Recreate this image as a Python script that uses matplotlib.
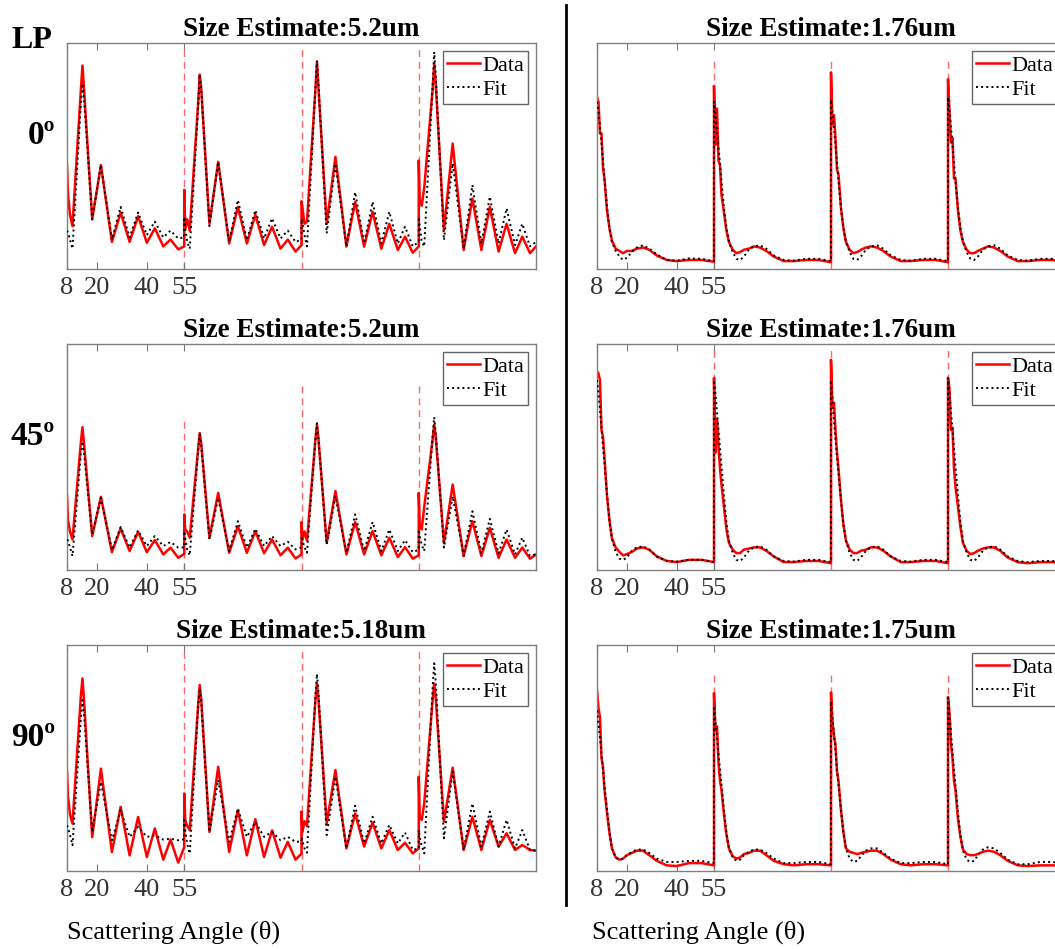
import matplotlib
matplotlib.use("Agg")
import matplotlib.pyplot as plt
from matplotlib.lines import Line2D
import numpy as np

plt.rcParams['font.family'] = ['Liberation Serif', 'DejaVu Serif']

# ---------------------------------------------------------
# data: 4 polarisation segments (8-55 deg) per panel, normalised intensity
# ---------------------------------------------------------
seg_width = 47
tick_pos = [8, 20, 40, 55]
tick_txt = ['8', '20', '40', '55']

row_labels = ['0º', '45º', '90º']
left_titles = ['Size Estimate:5.2um', 'Size Estimate:5.2um', 'Size Estimate:5.18um']
right_titles = ['Size Estimate:1.76um', 'Size Estimate:1.76um', 'Size Estimate:1.75um']

# angles sampled for the large (5 um) particle
ang_big = [8, 8.4, 9.2, 10.2, 13.6, 14.2, 14.8, 18.1, 21.6, 26.0, 29.5, 33.1,
           36.5, 40.0, 43.2, 46.6, 49.5, 52.6, 55]

big_data_0 = [
    [0.46, 0.33, 0.24, 0.19, 0.80, 0.90, 0.80, 0.22, 0.46, 0.12, 0.25, 0.12, 0.234, 0.116, 0.18, 0.10, 0.13, 0.087, 0.10],
    [0.35, 0.18, 0.22, 0.17, 0.74, 0.86, 0.80, 0.20, 0.474, 0.113, 0.275, 0.113, 0.24, 0.106, 0.187, 0.09, 0.13, 0.077, 0.106],
    [0.30, 0.27, 0.20, 0.21, 0.80, 0.916, 0.80, 0.20, 0.496, 0.099, 0.297, 0.099, 0.253, 0.09, 0.20, 0.084, 0.143, 0.072, 0.10],
    [0.48, 0.30, 0.28, 0.36, 0.80, 0.909, 0.82, 0.172, 0.555, 0.084, 0.312, 0.084, 0.275, 0.077, 0.20, 0.07, 0.143, 0.07, 0.10],
]
big_fit_0 = [
    [0.17, 0.16, 0.13, 0.09, 0.74, 0.82, 0.76, 0.22, 0.46, 0.13, 0.275, 0.14, 0.25, 0.15, 0.21, 0.14, 0.17, 0.135, 0.14],
    [0.23, 0.18, 0.12, 0.09, 0.72, 0.86, 0.80, 0.19, 0.474, 0.12, 0.305, 0.128, 0.26, 0.135, 0.224, 0.135, 0.17, 0.12, 0.13],
    [0.22, 0.20, 0.15, 0.10, 0.80, 0.923, 0.82, 0.158, 0.467, 0.10, 0.34, 0.113, 0.297, 0.113, 0.253, 0.113, 0.187, 0.10, 0.12],
    [0.23, 0.19, 0.12, 0.10, 0.82, 0.96, 0.86, 0.128, 0.467, 0.09, 0.371, 0.113, 0.32, 0.113, 0.268, 0.106, 0.20, 0.10, 0.12],
]
big_data_45 = [
    [0.33, 0.22, 0.17, 0.135, 0.57, 0.632, 0.56, 0.15, 0.324, 0.079, 0.184, 0.084, 0.169, 0.079, 0.132, 0.069, 0.099, 0.054, 0.072],
    [0.246, 0.18, 0.17, 0.143, 0.54, 0.606, 0.56, 0.143, 0.341, 0.076, 0.194, 0.076, 0.172, 0.074, 0.135, 0.065, 0.099, 0.051, 0.069],
    [0.212, 0.135, 0.17, 0.13, 0.58, 0.643, 0.58, 0.12, 0.349, 0.069, 0.212, 0.069, 0.172, 0.065, 0.143, 0.057, 0.101, 0.05, 0.065],
    [0.341, 0.20, 0.179, 0.28, 0.58, 0.643, 0.59, 0.12, 0.378, 0.062, 0.216, 0.062, 0.187, 0.054, 0.135, 0.054, 0.099, 0.05, 0.069],
]
big_fit_45 = [
    [0.135, 0.13, 0.10, 0.062, 0.52, 0.569, 0.52, 0.157, 0.319, 0.088, 0.19, 0.099, 0.175, 0.106, 0.15, 0.106, 0.124, 0.099, 0.10],
    [0.172, 0.14, 0.09, 0.065, 0.53, 0.599, 0.55, 0.135, 0.319, 0.084, 0.216, 0.099, 0.182, 0.106, 0.15, 0.106, 0.125, 0.091, 0.10],
    [0.15, 0.13, 0.10, 0.076, 0.58, 0.65, 0.58, 0.113, 0.326, 0.076, 0.246, 0.084, 0.212, 0.084, 0.179, 0.084, 0.132, 0.079, 0.09],
    [0.179, 0.15, 0.11, 0.084, 0.60, 0.676, 0.61, 0.099, 0.326, 0.062, 0.26, 0.076, 0.226, 0.074, 0.179, 0.069, 0.143, 0.062, 0.07],
]
big_data_90 = [
    [0.44, 0.33, 0.25, 0.21, 0.78, 0.852, 0.76, 0.15, 0.453, 0.084, 0.284, 0.069, 0.239, 0.062, 0.188, 0.05, 0.139, 0.037, 0.106],
    [0.343, 0.225, 0.20, 0.18, 0.74, 0.823, 0.76, 0.173, 0.461, 0.084, 0.269, 0.069, 0.229, 0.062, 0.18, 0.059, 0.129, 0.05, 0.077],
    [0.263, 0.174, 0.22, 0.20, 0.76, 0.83, 0.76, 0.211, 0.447, 0.10, 0.255, 0.108, 0.214, 0.10, 0.181, 0.093, 0.125, 0.078, 0.10],
    [0.417, 0.24, 0.226, 0.30, 0.76, 0.83, 0.77, 0.218, 0.457, 0.093, 0.24, 0.093, 0.226, 0.108, 0.167, 0.093, 0.115, 0.093, 0.09],
]
big_fit_90 = [
    [0.202, 0.19, 0.16, 0.114, 0.68, 0.756, 0.70, 0.173, 0.394, 0.136, 0.269, 0.151, 0.195, 0.151, 0.158, 0.139, 0.143, 0.136, 0.14],
    [0.225, 0.18, 0.12, 0.077, 0.73, 0.808, 0.75, 0.173, 0.402, 0.129, 0.276, 0.151, 0.217, 0.151, 0.173, 0.136, 0.151, 0.129, 0.13],
    [0.152, 0.13, 0.10, 0.081, 0.78, 0.872, 0.79, 0.159, 0.417, 0.10, 0.289, 0.122, 0.24, 0.122, 0.204, 0.122, 0.17, 0.093, 0.10],
    [0.181, 0.15, 0.11, 0.078, 0.82, 0.919, 0.84, 0.145, 0.44, 0.093, 0.299, 0.108, 0.263, 0.108, 0.226, 0.10, 0.181, 0.093, 0.09],
]

# angles sampled for the small (1.76 um) particle
ang_small = [8, 8.6, 9.2, 9.8, 10.4, 11, 12, 13, 14, 15.5, 17, 18.5, 20, 22, 24,
             26.5, 29, 32, 36, 40, 45, 50, 55]

small_data_0 = [
    [0.76, 0.74, 0.60, 0.60, 0.45, 0.40, 0.26, 0.18, 0.125, 0.09, 0.08, 0.07, 0.08, 0.08, 0.09, 0.095, 0.085, 0.06, 0.04, 0.035, 0.04, 0.04, 0.032],
    [0.81, 0.55, 0.71, 0.48, 0.46, 0.33, 0.25, 0.17, 0.12, 0.085, 0.07, 0.075, 0.085, 0.09, 0.10, 0.095, 0.08, 0.055, 0.035, 0.035, 0.04, 0.04, 0.03],
    [0.87, 0.64, 0.68, 0.58, 0.44, 0.42, 0.27, 0.18, 0.12, 0.085, 0.07, 0.075, 0.085, 0.095, 0.10, 0.095, 0.08, 0.055, 0.035, 0.035, 0.04, 0.04, 0.03],
    [0.84, 0.70, 0.56, 0.58, 0.40, 0.40, 0.26, 0.17, 0.12, 0.085, 0.07, 0.07, 0.08, 0.09, 0.10, 0.095, 0.08, 0.055, 0.035, 0.035, 0.04, 0.04, 0.03],
]
small_fit_0 = [
    [0.74, 0.70, 0.63, 0.56, 0.48, 0.40, 0.28, 0.18, 0.12, 0.08, 0.055, 0.04, 0.05, 0.075, 0.095, 0.105, 0.09, 0.065, 0.04, 0.037, 0.047, 0.045, 0.035],
    [0.74, 0.68, 0.61, 0.54, 0.47, 0.39, 0.27, 0.18, 0.12, 0.075, 0.045, 0.04, 0.055, 0.085, 0.10, 0.105, 0.09, 0.06, 0.04, 0.037, 0.045, 0.045, 0.035],
    [0.75, 0.69, 0.62, 0.55, 0.47, 0.39, 0.27, 0.18, 0.12, 0.075, 0.045, 0.04, 0.055, 0.085, 0.10, 0.105, 0.09, 0.06, 0.04, 0.037, 0.045, 0.045, 0.035],
    [0.76, 0.70, 0.63, 0.55, 0.47, 0.39, 0.27, 0.18, 0.12, 0.075, 0.045, 0.04, 0.055, 0.085, 0.10, 0.105, 0.09, 0.06, 0.04, 0.037, 0.045, 0.045, 0.035],
]
small_data_45 = [
    [0.88, 0.87, 0.84, 0.62, 0.59, 0.50, 0.33, 0.22, 0.14, 0.10, 0.08, 0.065, 0.07, 0.08, 0.095, 0.10, 0.09, 0.06, 0.04, 0.035, 0.045, 0.045, 0.035],
    [0.85, 0.52, 0.67, 0.55, 0.45, 0.38, 0.28, 0.18, 0.12, 0.09, 0.075, 0.075, 0.09, 0.095, 0.10, 0.10, 0.085, 0.06, 0.035, 0.035, 0.04, 0.04, 0.03],
    [0.93, 0.72, 0.74, 0.62, 0.52, 0.45, 0.31, 0.20, 0.13, 0.09, 0.075, 0.075, 0.085, 0.09, 0.10, 0.10, 0.085, 0.06, 0.035, 0.035, 0.04, 0.04, 0.03],
    [0.85, 0.80, 0.62, 0.63, 0.45, 0.37, 0.28, 0.19, 0.12, 0.085, 0.07, 0.075, 0.085, 0.095, 0.10, 0.10, 0.085, 0.055, 0.035, 0.03, 0.035, 0.035, 0.03],
]
small_fit_45 = [
    [0.84, 0.78, 0.71, 0.63, 0.55, 0.47, 0.34, 0.22, 0.14, 0.08, 0.05, 0.045, 0.055, 0.085, 0.10, 0.105, 0.09, 0.06, 0.04, 0.037, 0.045, 0.045, 0.035],
    [0.84, 0.78, 0.70, 0.62, 0.54, 0.46, 0.33, 0.21, 0.13, 0.075, 0.045, 0.04, 0.055, 0.085, 0.10, 0.105, 0.09, 0.06, 0.04, 0.037, 0.045, 0.045, 0.035],
    [0.84, 0.76, 0.66, 0.58, 0.50, 0.43, 0.31, 0.20, 0.13, 0.075, 0.045, 0.04, 0.055, 0.085, 0.10, 0.105, 0.09, 0.06, 0.04, 0.037, 0.045, 0.045, 0.035],
    [0.85, 0.78, 0.70, 0.62, 0.54, 0.46, 0.33, 0.21, 0.13, 0.075, 0.045, 0.04, 0.055, 0.085, 0.10, 0.105, 0.09, 0.06, 0.04, 0.035, 0.04, 0.04, 0.03],
]
small_data_90 = [
    [0.80, 0.72, 0.68, 0.50, 0.46, 0.36, 0.26, 0.17, 0.10, 0.06, 0.05, 0.055, 0.07, 0.08, 0.09, 0.09, 0.07, 0.045, 0.025, 0.022, 0.035, 0.035, 0.025],
    [0.787, 0.62, 0.64, 0.48, 0.40, 0.36, 0.25, 0.16, 0.10, 0.065, 0.055, 0.06, 0.075, 0.08, 0.09, 0.09, 0.07, 0.045, 0.03, 0.025, 0.03, 0.03, 0.025],
    [0.79, 0.66, 0.60, 0.56, 0.44, 0.40, 0.27, 0.17, 0.10, 0.085, 0.08, 0.075, 0.08, 0.085, 0.09, 0.09, 0.075, 0.05, 0.03, 0.025, 0.03, 0.03, 0.025],
    [0.77, 0.70, 0.56, 0.50, 0.40, 0.36, 0.23, 0.15, 0.095, 0.075, 0.07, 0.07, 0.075, 0.085, 0.09, 0.085, 0.07, 0.045, 0.025, 0.022, 0.025, 0.025, 0.022],
]
small_fit_90 = [
    [0.71, 0.65, 0.59, 0.52, 0.45, 0.38, 0.27, 0.17, 0.10, 0.06, 0.05, 0.055, 0.07, 0.085, 0.095, 0.095, 0.08, 0.055, 0.04, 0.04, 0.045, 0.045, 0.035],
    [0.73, 0.66, 0.59, 0.52, 0.45, 0.38, 0.27, 0.17, 0.10, 0.06, 0.045, 0.05, 0.07, 0.085, 0.095, 0.095, 0.08, 0.055, 0.035, 0.035, 0.04, 0.04, 0.03],
    [0.75, 0.68, 0.60, 0.53, 0.45, 0.38, 0.27, 0.17, 0.10, 0.055, 0.04, 0.045, 0.065, 0.09, 0.10, 0.10, 0.08, 0.055, 0.035, 0.035, 0.04, 0.04, 0.03],
    [0.765, 0.69, 0.61, 0.53, 0.45, 0.38, 0.26, 0.16, 0.09, 0.05, 0.04, 0.045, 0.07, 0.095, 0.105, 0.10, 0.08, 0.05, 0.03, 0.03, 0.04, 0.04, 0.03],
]

# height reached by the dashed segment separators
left_sep_top = [[0.98, 0.98, 0.98], [0.672, 0.834, 0.829], [0.99, 0.99, 0.99]]
right_sep_top = [[0.94, 0.94, 0.94], [0.99, 0.99, 0.99], [0.88, 0.88, 0.88]]

left_data = [big_data_0, big_data_45, big_data_90]
left_fit = [big_fit_0, big_fit_45, big_fit_90]
right_data = [small_data_0, small_data_45, small_data_90]
right_fit = [small_fit_0, small_fit_45, small_fit_90]


def joined(ang, segs):
    xs, ys = [], []
    for k, seg in enumerate(segs):
        xs.extend(np.array(ang) + k * seg_width)
        ys.extend(seg)
    return xs, ys


def draw_panel(ax, ang, data, fit, sep_top, title):
    for k in range(3):
        xb = 55 + k * seg_width
        ax.plot([xb, xb], [0, sep_top[k]], color='#ff6a6a', lw=1.0,
                dashes=(5, 3.5), zorder=1)
    xd, yd = joined(ang, data)
    xf, yf = joined(ang, fit)
    ax.plot(xd, yd, color='red', lw=1.8, label='Data', zorder=2,
            solid_joinstyle='round')
    ax.plot(xf, yf, color='black', lw=1.4, ls=':', label='Fit', zorder=3)
    ax.set_xlim(8, 8 + 4 * seg_width)
    ax.set_ylim(0, 1)
    ax.set_xticks(tick_pos)
    ax.set_xticklabels(tick_txt)
    ax.set_yticks([])
    ax.tick_params(axis='x', direction='in', top=True, length=5, width=0.8,
                   color='#777777', labelsize=19, labelcolor='#333333', pad=6)
    for sp in ax.spines.values():
        sp.set_color('#808080')
        sp.set_linewidth(1.0)
    ax.set_title(title, fontsize=19.5, fontweight='bold', pad=5)
    leg = ax.legend(loc='upper right', fontsize=16, handlelength=1.45,
                    handletextpad=0.1, labelspacing=0.15, borderpad=0.2,
                    borderaxespad=0.35, fancybox=False, framealpha=1)
    leg.get_frame().set_edgecolor('#666666')
    leg.get_frame().set_linewidth(1.0)


W, H = 1055, 949
fig = plt.figure(figsize=(W / 100, H / 100), dpi=100)

row_tops = [43, 344, 645]
ax_h = 226
for r in range(3):
    bottom = 1 - (row_tops[r] + ax_h) / H
    axl = fig.add_axes([67 / W, bottom, 469 / W, ax_h / H])
    draw_panel(axl, ang_big, left_data[r], left_fit[r], left_sep_top[r], left_titles[r])
    axr = fig.add_axes([597 / W, bottom, 468 / W, ax_h / H])
    draw_panel(axr, ang_small, right_data[r], right_fit[r], right_sep_top[r], right_titles[r])

# row labels
fig.text(12 / W, 1 - 40 / H, 'LP', fontsize=23, fontweight='bold', ha='left', va='center')
label_y = [136, 437, 738]
for r in range(3):
    fig.text(55 / W, 1 - label_y[r] / H, row_labels[r], fontsize=24,
             fontweight='bold', ha='right', va='center')

# axis labels
fig.text(67 / W, 1 - 932 / H, 'Scattering Angle (θ)', fontsize=19, ha='left', va='center')
fig.text(592 / W, 1 - 932 / H, 'Scattering Angle (θ)', fontsize=19, ha='left', va='center')

# separator between the two columns
fig.add_artist(Line2D([566 / W, 566 / W], [1 - 5 / H, 1 - 905 / H], color='black', lw=2))

fig.savefig('out.png', dpi=100)
